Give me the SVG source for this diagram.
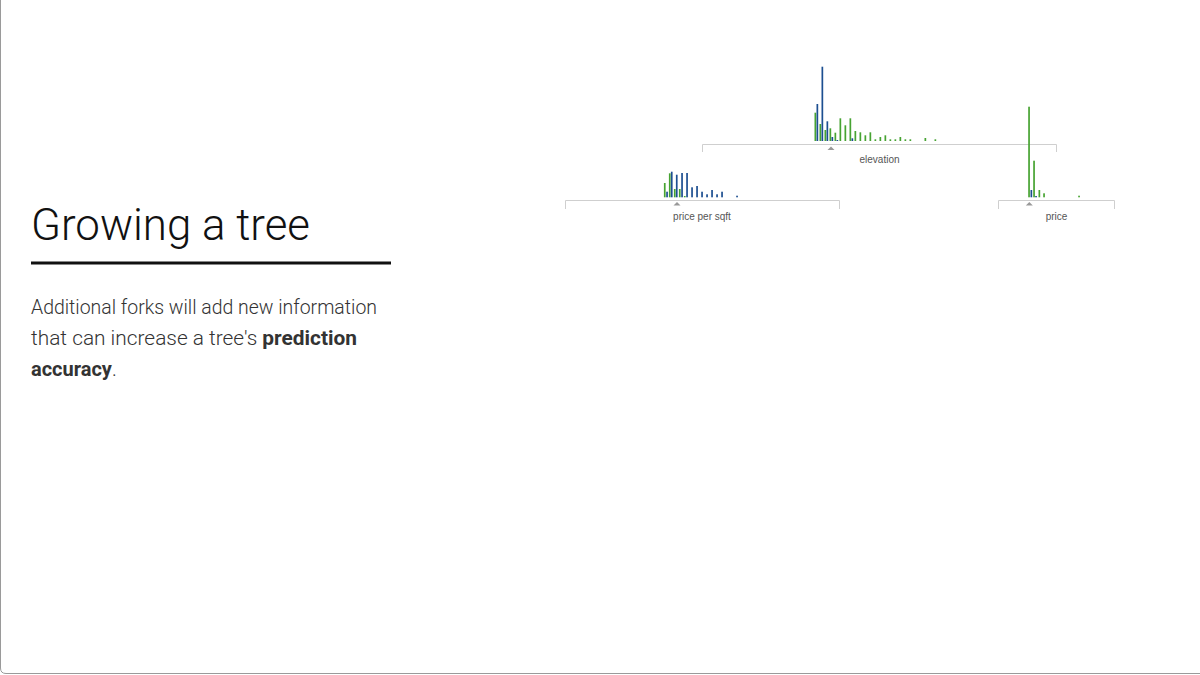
<svg xmlns="http://www.w3.org/2000/svg" width="1200" height="675" viewBox="0 0 1200 675">
<style>
.g{fill:#47a332}
.b{fill:#1d4f91}
.br{fill:none;stroke:#cfcfcf;stroke-width:1}
.tri{fill:#999}
.lbl{font-family:"Liberation Sans",Arial,sans-serif;font-size:10px;fill:#555;text-anchor:middle}
.body{font-family:Roboto,"Liberation Sans",sans-serif;font-weight:300;font-size:20px;fill:#333}
.bold{font-weight:700}
</style>
<rect x="0" y="0" width="1200" height="675" fill="#fff"/>
<path d="M0.5,0 V668 Q0.5,673.5 6,673.5 H1200" fill="none" stroke="#9a9a9a" stroke-width="1"/>

<g id="title">
<text x="31" y="240" font-family="Roboto,'Liberation Sans',sans-serif" font-weight="300" font-size="44" fill="#111" textLength="279" lengthAdjust="spacingAndGlyphs">Growing a tree</text>
<rect x="31" y="261.5" width="360" height="3" fill="#111"/>
</g>

<g id="description">
<text class="body" x="31" y="314" textLength="346" lengthAdjust="spacingAndGlyphs">Additional forks will add new information</text>
<text class="body" x="31" y="345" textLength="326" lengthAdjust="spacingAndGlyphs">that can increase a tree's <tspan class="bold">prediction</tspan></text>
<text class="body" x="31" y="376"><tspan class="bold">accuracy</tspan>.</text>
</g>

<g id="connectors">
<path class="br" d="M702.5,152 V144.5 H1056.5 V152"/>
<path class="br" d="M565.5,209 V200.5 H839.5 V209"/>
<path class="br" d="M998.5,209 V200.5 H1114.5 V209"/>
</g>

<g id="node-elevation">
<g class="g">
<rect x="814.5" y="112.7" width="1.7" height="28.3"/>
<rect x="819.5" y="124" width="1.7" height="17"/>
<rect x="824.5" y="130" width="1.7" height="11"/>
<rect x="829.5" y="128.3" width="1.7" height="12.7"/>
<rect x="834.5" y="132.7" width="1.7" height="8.3"/>
<rect x="839.5" y="118.3" width="1.7" height="22.7"/>
<rect x="844.5" y="125.3" width="1.7" height="15.7"/>
<rect x="849.5" y="118.3" width="1.7" height="22.7"/>
<rect x="854.5" y="131" width="1.7" height="10"/>
<rect x="859.5" y="132.3" width="1.7" height="8.7"/>
<rect x="864.5" y="135.3" width="1.7" height="5.7"/>
<rect x="869.5" y="132.3" width="1.7" height="8.7"/>
<rect x="874.5" y="139.3" width="1.7" height="1.7"/>
<rect x="879.5" y="137" width="1.7" height="4"/>
<rect x="884.5" y="135.3" width="1.7" height="5.7"/>
<rect x="889.5" y="139.3" width="1.7" height="1.7"/>
<rect x="894.5" y="139.3" width="1.7" height="1.7"/>
<rect x="899.5" y="137" width="1.7" height="4"/>
<rect x="904.5" y="139.3" width="1.7" height="1.7"/>
<rect x="909.5" y="139.3" width="1.7" height="1.7"/>
<rect x="924.5" y="138" width="1.7" height="3"/>
<rect x="934.5" y="139.3" width="1.7" height="1.7"/>
</g>
<g class="b">
<rect x="816.5" y="104" width="1.7" height="37"/>
<rect x="821.5" y="66.7" width="1.7" height="74.3"/>
<rect x="826.5" y="121.3" width="1.7" height="19.7"/>
<rect x="831.5" y="137" width="1.7" height="4"/>
<rect x="836.5" y="140" width="1.7" height="1"/>
<rect x="851.5" y="138.3" width="1.7" height="2.7"/>
</g>
<polygon class="tri" points="827.5,150 834.5,150 831,146.5"/>
<text class="lbl" x="879.5" y="163">elevation</text>
</g>

<g id="node-price-per-sqft">
<g class="g">
<rect x="663.9" y="183" width="1.7" height="14.3"/>
<rect x="668.9" y="173.3" width="1.7" height="24"/>
<rect x="673.9" y="189" width="1.7" height="8.3"/>
<rect x="678.9" y="189" width="1.7" height="8.3"/>
<rect x="683.9" y="196" width="1.7" height="1.3"/>
</g>
<g class="b">
<rect x="666.2" y="191.7" width="1.7" height="5.6"/>
<rect x="670.9" y="171.7" width="1.7" height="25.6"/>
<rect x="675.9" y="174.7" width="1.7" height="22.6"/>
<rect x="681.2" y="173" width="1.7" height="24.3"/>
<rect x="686.2" y="173" width="1.7" height="24.3"/>
<rect x="691.2" y="187.3" width="1.7" height="10"/>
<rect x="696.2" y="186" width="1.7" height="11.3"/>
<rect x="701.2" y="191.7" width="1.7" height="5.6"/>
<rect x="706.2" y="194.3" width="1.7" height="3"/>
<rect x="711.2" y="190" width="1.7" height="7.3"/>
<rect x="716.2" y="194.3" width="1.7" height="3"/>
<rect x="721.2" y="191.7" width="1.7" height="5.6"/>
<rect x="736.2" y="195.7" width="1.7" height="1.6"/>
</g>
<polygon class="tri" points="673.5,205.5 680.5,205.5 677,202"/>
<text class="lbl" x="702" y="219.5">price per sqft</text>
</g>

<g id="node-price">
<g class="g">
<rect x="1028.2" y="106.7" width="1.7" height="90.6"/>
<rect x="1033.2" y="160.7" width="1.7" height="36.6"/>
<rect x="1038.5" y="190" width="1.7" height="7.3"/>
<rect x="1043.2" y="193.3" width="1.7" height="4"/>
<rect x="1078.2" y="195.7" width="1.7" height="1.6"/>
</g>
<g class="b">
<rect x="1030.5" y="190" width="1.7" height="7.3"/>
<rect x="1035.2" y="196" width="1.7" height="1.3"/>
</g>
<polygon class="tri" points="1025.8,205.5 1032.8,205.5 1029.3,202"/>
<text class="lbl" x="1056.5" y="219.5">price</text>
</g>
</svg>
